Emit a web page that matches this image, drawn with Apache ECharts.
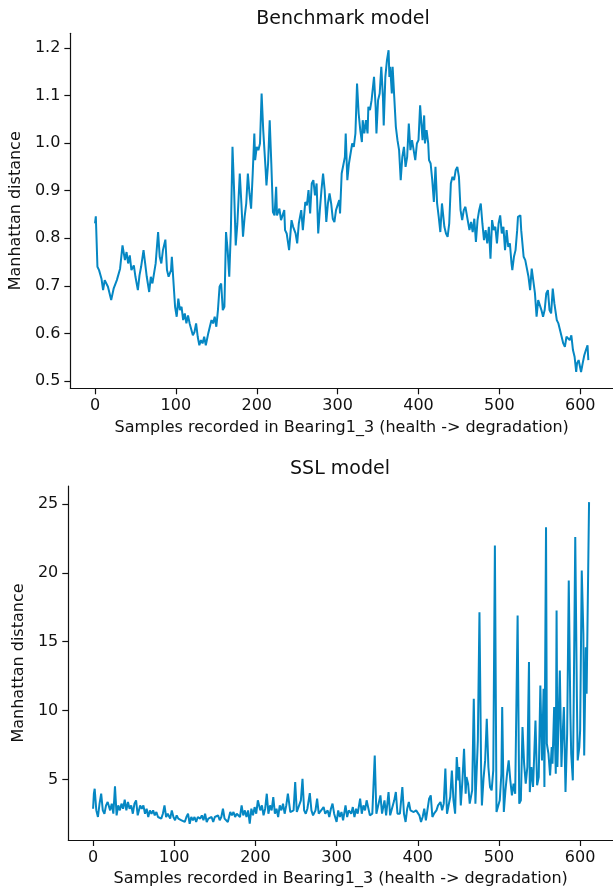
<!DOCTYPE html>
<html>
<head>
<meta charset="utf-8">
<script src="https://cdn.jsdelivr.net/npm/echarts@6/dist/echarts.min.js"></script>
<style>
html,body{margin:0;padding:0;background:#fff;}
#chart{width:613px;height:890px;}
</style>
</head>
<body>
<div id="chart"></div>
<script>
// ---------- Benchmark model (top) ----------
const benchSamples = [0,1,3,5,8,10,12,14,16,18,20,23,27,31,34,37,39,41,43,45,48,50,53,55,57,60,62,64,67,69,71,73,75,78,80,82,84,87,89,91,94,95,97,
99,101,103,105,107,109,111,113,115,117,119,121,123,125,127,129,131,133,135,137,140,142,144,146,148,150,152,154,156,158,160,162,164,166,168,170,172,174,176,179,181,183,185,187,189,191,193,195,197,198,200,202,204,206,208,211,212,214,216,218,220,222,224,225,228,230,232,234,235,237,240,243,245,248,250,252,253,255,257,260,262,264,266,268,270,272,274,276,278,280,282,284,286,288,290,292,294,296,298,300,302,303,305,307,309,310,312,314,316,318,320,322,324,326,328,330,331,333,335,337,338,340,342,344,345,347,348,350,352,354,356,357,359,361,363,364,365,367,368,370,372,374,376,378,380,382,384,386,388,390,392,394,396,398,400,402,405,407,408,410,412,413,415,417,419,421,423,425,427,429,430,432,434,436,438,440,442,444,446,448,450,452,454,456,458,460,463,465,467,469,471,473,475,477,479,481,483,485,487,489,491,493,495,497,499,501,503,505,507,509,511,513,515,516,518,520,522,523,526,527,530,532,534,536,538,540,542,544,546,548,550,552,554,556,558,560,562,564,566,568,571,573,575,577,579,581,583,585,587,589,591,593,595,596,598,600,601,603,605,607,609,610];
const benchValues = [0.831,0.846,0.740,0.733,0.715,0.691,0.712,0.712,0.698,0.698,0.670,0.694,0.712,0.736,0.785,0.754,0.771,0.747,0.764,0.733,0.743,0.719,0.691,0.722,0.740,0.775,0.747,0.719,0.687,0.719,0.705,0.726,0.747,0.813,0.761,0.747,0.775,0.797,0.733,0.719,0.733,0.761,0.761,
0.656,0.635,0.673,0.649,0.656,0.628,0.642,0.621,0.638,0.621,0.617,0.596,0.603,0.621,0.593,0.575,0.586,0.579,0.593,0.575,0.600,0.600,0.628,0.621,0.635,0.614,0.649,0.698,0.705,0.649,0.656,0.813,0.775,0.719,0.817,0.992,0.900,0.785,0.830,0.936,0.873,0.803,0.845,0.873,0.936,0.894,0.862,0.936,1.020,0.964,0.992,0.985,0.999,1.104,1.027,0.943,0.911,0.957,1.048,0.957,0.855,0.848,0.908,0.848,0.862,0.838,0.834,0.859,0.817,0.810,0.775,0.838,0.824,0.810,0.789,0.831,0.831,0.859,0.817,0.876,0.869,0.901,0.852,0.915,0.922,0.890,0.915,0.810,0.859,0.901,0.936,0.901,0.834,0.873,0.894,0.873,0.841,0.834,0.859,0.855,0.880,0.852,0.936,0.936,0.971,1.020,0.922,0.957,0.953,0.999,0.992,1.020,1.125,1.062,1.027,1.002,1.048,1.020,1.048,1.020,1.076,1.069,1.090,1.090,1.139,1.076,1.020,1.090,1.104,1.160,1.097,1.037,1.139,1.174,1.195,1.139,1.160,1.104,1.160,1.097,1.034,1.006,0.985,0.922,0.971,0.992,0.950,0.971,1.041,0.985,1.006,1.006,0.964,0.999,1.006,1.079,1.006,1.058,0.999,1.027,0.999,0.964,0.957,0.922,0.876,0.950,0.873,0.845,0.813,0.873,0.876,0.824,0.810,0.803,0.831,0.915,0.929,0.922,0.943,0.950,0.929,0.859,0.838,0.859,0.866,0.869,0.817,0.834,0.813,0.841,0.792,0.838,0.859,0.873,0.831,0.796,0.817,0.789,0.824,0.757,0.838,0.817,0.824,0.789,0.831,0.848,0.810,0.824,0.775,0.817,0.782,0.789,0.747,0.733,0.761,0.775,0.817,0.845,0.848,0.817,0.761,0.754,0.754,0.719,0.691,0.736,0.740,0.684,0.635,0.670,0.670,0.649,0.635,0.649,0.684,0.691,0.649,0.642,0.694,0.663,0.628,0.621,0.621,0.593,0.579,0.572,0.593,0.596,0.586,0.596,0.565,0.551,0.519,0.537,0.544,0.540,0.519,0.537,0.554,0.565,0.575,0.544];

// ---------- SSL model (bottom) ----------
const sslSamples = [0,1,2,4,6,8,10,12,14,16,18,21,23,25,27,29,31,33,35,37,39,41,43,45,47,49,51,53,55,58,60,62,64,66,68,70,72,74,76,78,80,82,84,86,88,90,92,95,97,99,101,103,105,107,109,111,113,115,117,119,121,123,125,127,129,132,134,136,138,140,142,144,146,148,150,152,154,156,158,160,162,164,166,169,171,173,175,177,179,181,
183,185,187,189,191,193,195,197,199,201,203,206,208,210,212,214,216,218,220,222,224,226,228,230,232,234,236,238,240,243,245,247,249,251,253,256,258,260,262,264,267,269,271,274,276,278,281,284,286,289,291,293,295,297,300,302,304,306,308,311,313,315,318,320,322,324,326,329,331,333,335,337,339,341,344,347,349,351,354,356,359,361,364,366,368,371,373,375,378,381,383,385,387,389,391,393,395,398,400,402,
404,406,408,410,412,414,416,418,420,423,425,428,430,432,434,436,438,440,442,444,446,448,450,451,453,455,457,459,460,462,464,467,469,471,473,474,476,478,479,481,483,485,487,489,491,493,495,497,498,501,503,504,506,508,510,512,514,516,518,520,521,523,525,527,529,531,533,535,537,538,540,542,545,547,549,551,553,555,556,558,559,561,563,565,566,568,570,571,572,574,575,577,578,580,582,584,586,588,589,591,592,594,596,597,599,600,602,604,605,607,608,610,611];
const sslValues = [2.87,3.96,4.32,2.75,2.27,3.24,3.96,2.75,2.51,3.11,3.36,2.75,3.24,2.51,4.49,2.39,3.11,2.75,3.24,2.87,3.53,2.75,3.36,2.87,3.11,2.51,3.24,3.48,2.39,3.11,2.87,3.11,2.51,2.87,2.27,2.75,2.51,2.75,2.39,2.63,2.27,2.39,2.15,2.51,3.11,2.27,2.51,2.15,2.75,2.27,2.03,2.39,2.15,2.27,2.03,2.15,1.91,2.27,2.51,1.78,2.27,2.03,2.27,1.91,2.27,2.15,2.39,2.03,2.51,1.91,2.15,2.03,2.27,1.91,2.27,2.15,2.39,2.03,2.27,2.87,2.15,2.27,1.91,2.63,2.39,2.63,2.27,2.51,2.39,2.27,
3.11,2.39,2.75,2.27,2.75,1.78,2.87,2.39,2.99,2.51,3.48,2.75,3.11,2.39,2.87,3.96,2.51,3.11,2.75,3.72,2.51,2.87,2.27,3.11,2.75,3.24,2.51,3.11,3.96,2.63,2.51,2.75,4.81,2.63,2.51,3.48,5.05,2.75,2.51,2.87,4.01,2.75,2.39,2.75,3.60,2.51,2.75,2.99,2.51,2.75,2.27,2.87,3.24,2.51,1.91,2.75,2.27,2.63,2.03,3.11,2.27,2.75,2.51,2.99,2.27,2.87,2.51,3.60,2.51,3.11,2.75,3.48,3.48,2.39,2.51,6.74,2.51,2.51,3.84,2.51,3.48,2.39,4.08,2.39,2.27,3.48,4.08,2.51,2.51,4.45,2.51,1.91,2.87,3.36,2.75,2.87,2.63,2.75,2.75,2.39,
1.91,2.27,2.87,2.03,1.90,3.60,3.84,2.27,2.51,2.75,3.11,3.36,2.75,3.24,5.78,2.51,2.39,3.72,5.65,3.48,2.51,6.62,4.93,5.90,3.11,4.93,7.23,3.96,5.17,4.69,3.24,4.20,10.86,3.24,3.11,7.83,17.14,5.90,3.11,5.05,6.38,9.40,5.90,4.45,4.20,5.65,21.98,2.63,2.51,3.48,5.41,10.25,2.63,4.20,5.41,6.38,4.93,3.84,4.69,3.96,3.96,16.90,3.24,3.48,8.80,6.14,4.69,5.90,13.52,4.08,5.90,4.45,9.28,4.57,5.17,11.82,6.38,11.58,4.45,23.31,7.59,6.86,5.29,7.35,6.14,10.25,5.41,17.27,5.90,10.49,12.91,5.90,7.59,10.25,4.08,8.32,19.44,9.77,6.86,4.93,10.01,22.59,10.98,6.38,7.35,8.56,20.17,15.57,6.74,14.60,11.22,11.22,25.13];

const xTicks = [0,100,200,300,400,500,600];
const benchYTicks = [0.5,0.6,0.7,0.8,0.9,1.0,1.1,1.2];
const sslYTicks = [5,10,15,20,25];

const FONT = '"DejaVu Sans", sans-serif';
const LINE = '#0587c3';
const INK = '#111';

function pairs(xs, ys){ return xs.map((x,i)=>[x, ys[i]]); }

function xAxisCfg(gridIndex, nameGap){
  return {
    type:'value', gridIndex, min:-30.5, max:640.5,
    name:'Samples recorded in Bearing1_3 (health -> degradation)',
    nameLocation:'middle', nameGap,
    nameTextStyle:{fontFamily:FONT, fontSize:16, color:INK},
    axisLine:{show:true, onZero:false, lineStyle:{color:INK, width:1.2}},
    axisTick:{show:true, length:6, customValues:xTicks, lineStyle:{color:INK, width:1.2}},
    axisLabel:{customValues:xTicks, fontFamily:FONT, fontSize:16, color:INK, margin:10},
    splitLine:{show:false}
  };
}
function yAxisCfg(gridIndex, min, max, ticks, nameGap, fmt){
  return {
    type:'value', gridIndex, min, max,
    name:'Manhattan distance', nameLocation:'middle', nameGap,
    nameTextStyle:{fontFamily:FONT, fontSize:16, color:INK},
    axisLine:{show:true, onZero:false, lineStyle:{color:INK, width:1.2}},
    axisTick:{show:true, length:6, customValues:ticks, lineStyle:{color:INK, width:1.2}},
    axisLabel:{customValues:ticks, fontFamily:FONT, fontSize:16, color:INK, margin:10, formatter:fmt},
    splitLine:{show:false}
  };
}

const chart = echarts.init(document.getElementById('chart'), null, {renderer:'canvas'});
chart.setOption({
  animation:false,
  backgroundColor:'#fff',
  graphic:[
    {type:'text', x:343, y:19, style:{text:'Benchmark model', font:'19px "DejaVu Sans", sans-serif', fill:INK, align:'center', verticalAlign:'middle'}},
    {type:'text', x:340, y:469, style:{text:'SSL model', font:'19px "DejaVu Sans", sans-serif', fill:INK, align:'center', verticalAlign:'middle'}}
  ],
  grid:[
    {left:70, top:33.3, width:545.5, height:355},
    {left:68.3, top:486, width:545, height:354}
  ],
  xAxis:[ xAxisCfg(0, 32), xAxisCfg(1, 31) ],
  yAxis:[
    yAxisCfg(0, 0.4847, 1.2305, benchYTicks, 44, v => v.toFixed(1)),
    yAxisCfg(1, 0.6, 26.3, sslYTicks, 40, v => String(Math.round(v)))
  ],
  series:[
    {type:'line', xAxisIndex:0, yAxisIndex:0, data:pairs(benchSamples, benchValues), showSymbol:false, lineStyle:{color:LINE, width:2}, itemStyle:{color:LINE}},
    {type:'line', xAxisIndex:1, yAxisIndex:1, data:pairs(sslSamples, sslValues), showSymbol:false, lineStyle:{color:LINE, width:2}, itemStyle:{color:LINE}}
  ]
});
</script>
</body>
</html>
